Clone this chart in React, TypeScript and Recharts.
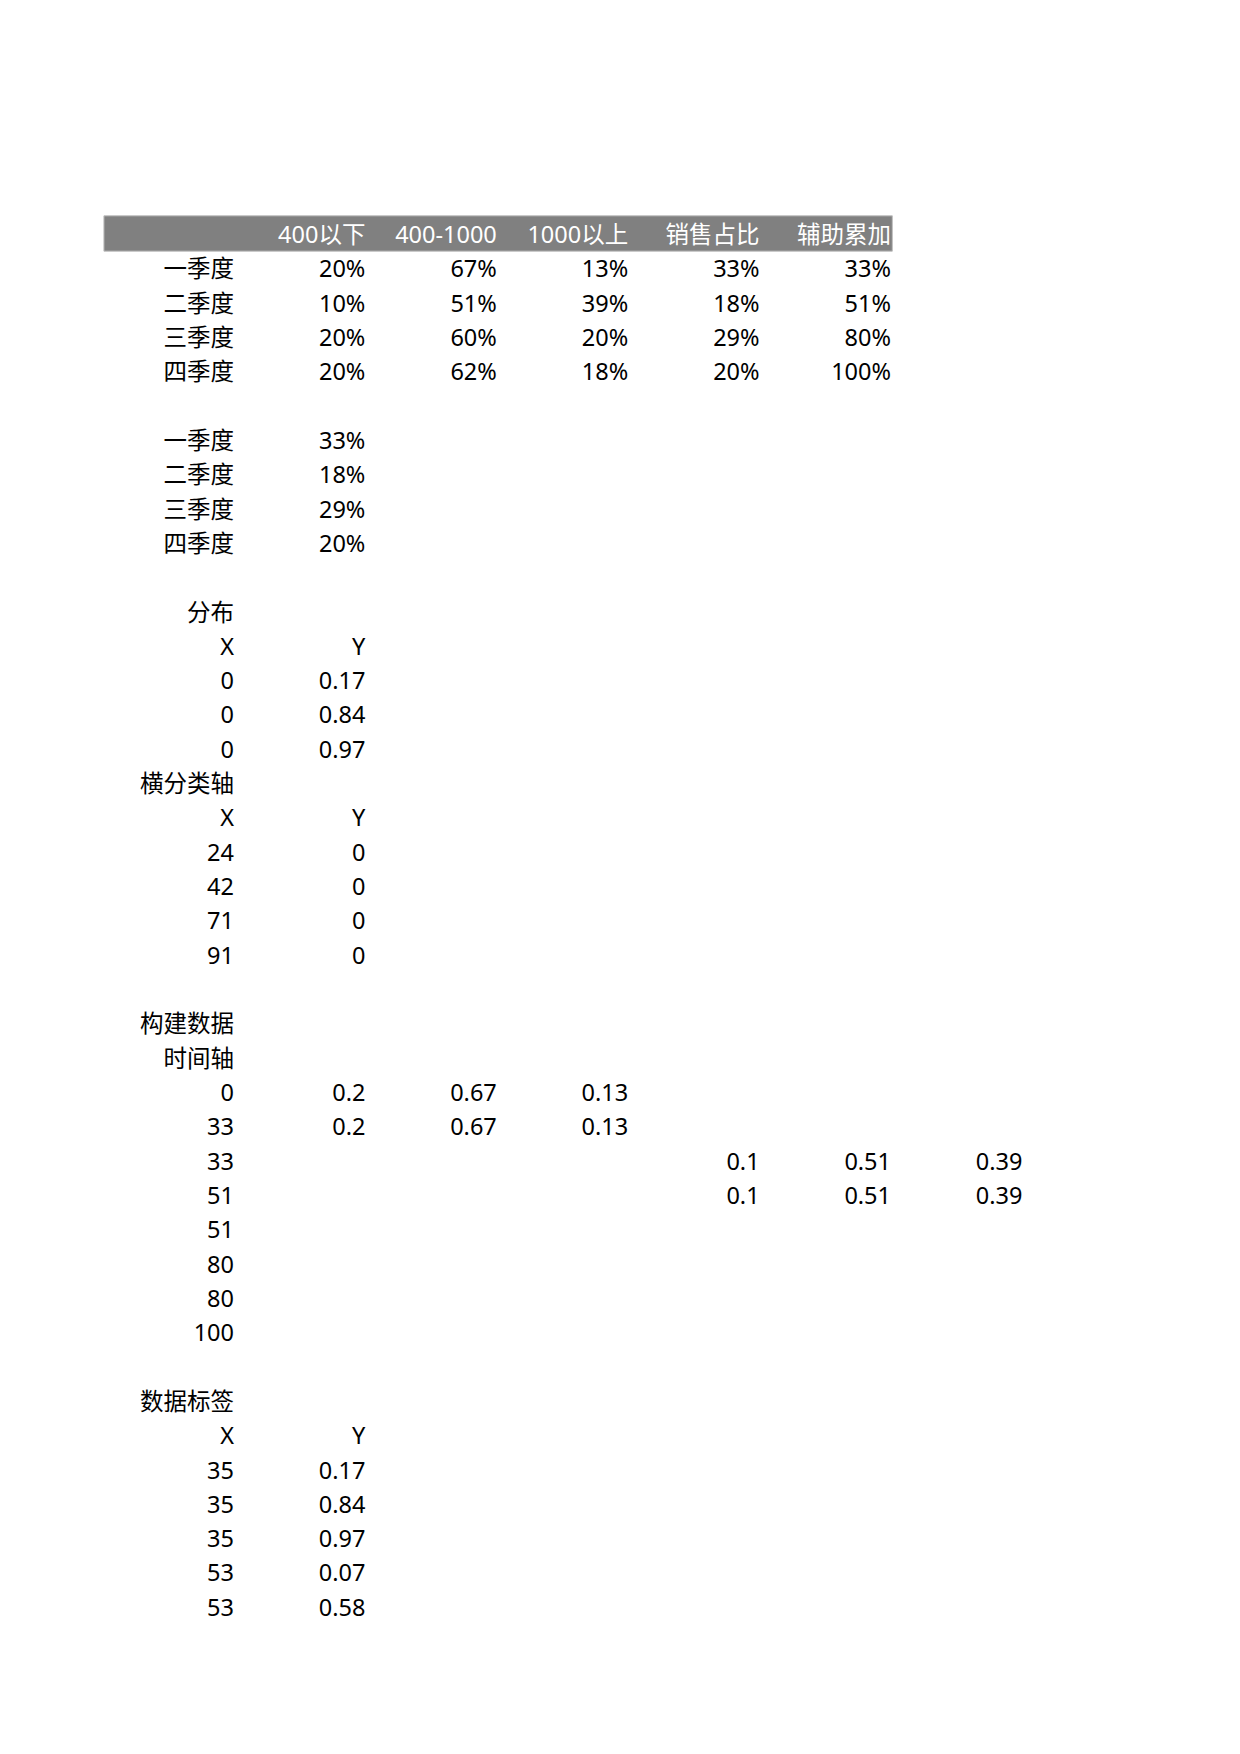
import React from 'react';
import { ScatterChart, Scatter, XAxis, YAxis, ReferenceArea } from 'recharts';

// ---- data ----
const headerLabels = ['', '400以下', '400-1000', '1000以上', '销售占比', '辅助累加'];
const quarters = ['一季度', '二季度', '三季度', '四季度'];
const below400 = [20, 10, 20, 20];
const mid400to1000 = [67, 51, 60, 62];
const above1000 = [13, 39, 20, 18];
const salesShare = [33, 18, 29, 20];
const cumulative = [33, 51, 80, 100];

const distX = [0, 0, 0];
const distY = [0.17, 0.84, 0.97];

const axisX = [24, 42, 71, 91];
const axisY = [0, 0, 0, 0];

const timeAxis = [0, 33, 33, 51, 51, 80, 80, 100];
const buildA = [0.2, 0.67, 0.13];
const buildB = [0.1, 0.51, 0.39];

const labelX = [35, 35, 35, 53, 53];
const labelY = [0.17, 0.84, 0.97, 0.07, 0.58];

// ---- build cells (col = column index, row = row index) ----
type Cell = { col: number; row: number; text: string; header?: boolean };
const cells: Cell[] = [];
const pct = (v: number) => `${v}%`;

headerLabels.forEach((h, c) => {
  if (h) cells.push({ col: c, row: 0, text: h, header: true });
});
quarters.forEach((q, i) => {
  const r = 1 + i;
  cells.push({ col: 0, row: r, text: q });
  cells.push({ col: 1, row: r, text: pct(below400[i]) });
  cells.push({ col: 2, row: r, text: pct(mid400to1000[i]) });
  cells.push({ col: 3, row: r, text: pct(above1000[i]) });
  cells.push({ col: 4, row: r, text: pct(salesShare[i]) });
  cells.push({ col: 5, row: r, text: pct(cumulative[i]) });
});
quarters.forEach((q, i) => {
  const r = 6 + i;
  cells.push({ col: 0, row: r, text: q });
  cells.push({ col: 1, row: r, text: pct(salesShare[i]) });
});
cells.push({ col: 0, row: 11, text: '分布' });
cells.push({ col: 0, row: 12, text: 'X' });
cells.push({ col: 1, row: 12, text: 'Y' });
distX.forEach((x, i) => {
  cells.push({ col: 0, row: 13 + i, text: String(x) });
  cells.push({ col: 1, row: 13 + i, text: String(distY[i]) });
});
cells.push({ col: 0, row: 16, text: '横分类轴' });
cells.push({ col: 0, row: 17, text: 'X' });
cells.push({ col: 1, row: 17, text: 'Y' });
axisX.forEach((x, i) => {
  cells.push({ col: 0, row: 18 + i, text: String(x) });
  cells.push({ col: 1, row: 18 + i, text: String(axisY[i]) });
});
cells.push({ col: 0, row: 23, text: '构建数据' });
cells.push({ col: 0, row: 24, text: '时间轴' });
timeAxis.forEach((t, i) => {
  const r = 25 + i;
  cells.push({ col: 0, row: r, text: String(t) });
  if (i < 2) buildA.forEach((v, j) => cells.push({ col: 1 + j, row: r, text: String(v) }));
  if (i >= 2 && i < 4) buildB.forEach((v, j) => cells.push({ col: 4 + j, row: r, text: String(v) }));
});
cells.push({ col: 0, row: 34, text: '数据标签' });
cells.push({ col: 0, row: 35, text: 'X' });
cells.push({ col: 1, row: 35, text: 'Y' });
labelX.forEach((x, i) => {
  cells.push({ col: 0, row: 36 + i, text: String(x) });
  cells.push({ col: 1, row: 36 + i, text: String(labelY[i]) });
});

const FONT = '"Noto Sans", "Noto Sans CJK SC", sans-serif';

const CellText = (props: any) => {
  const { cx, cy, payload } = props;
  if (cx == null || cy == null) return null;
  return (
    <text
      x={cx}
      y={cy}
      textAnchor="end"
      dominantBaseline="central"
      fontFamily={FONT}
      fontSize={23.5}
      fill={payload.header ? '#ffffff' : '#000000'}
    >
      {payload.text}
    </text>
  );
};

const COL_W = 131.4;
const ROW_H = 34.32;

export default function App() {
  const width = 1232;
  const height = 1720;
  const left = 226 - COL_W;
  const top = 226 - ROW_H;
  const plotW = 8 * COL_W;
  const plotH = 42 * ROW_H;
  return (
    <div style={{ width, height }}>
      <ScatterChart
        width={width}
        height={height}
        margin={{ left, top, right: width - left - plotW, bottom: height - top - plotH }}
      >
        <XAxis type="number" dataKey="col" domain={[-1, 7]} hide />
        <YAxis type="number" dataKey="row" domain={[-1, 41]} reversed hide />
        <ReferenceArea
          x1={-0.99}
          x2={5.01}
          y1={-0.53}
          y2={0.5}
          fill="#808080"
          fillOpacity={1}
          stroke="#bfbfbf"
          strokeWidth={1}
        />
        <Scatter data={cells} shape={CellText} isAnimationActive={false} />
      </ScatterChart>
    </div>
  );
}
